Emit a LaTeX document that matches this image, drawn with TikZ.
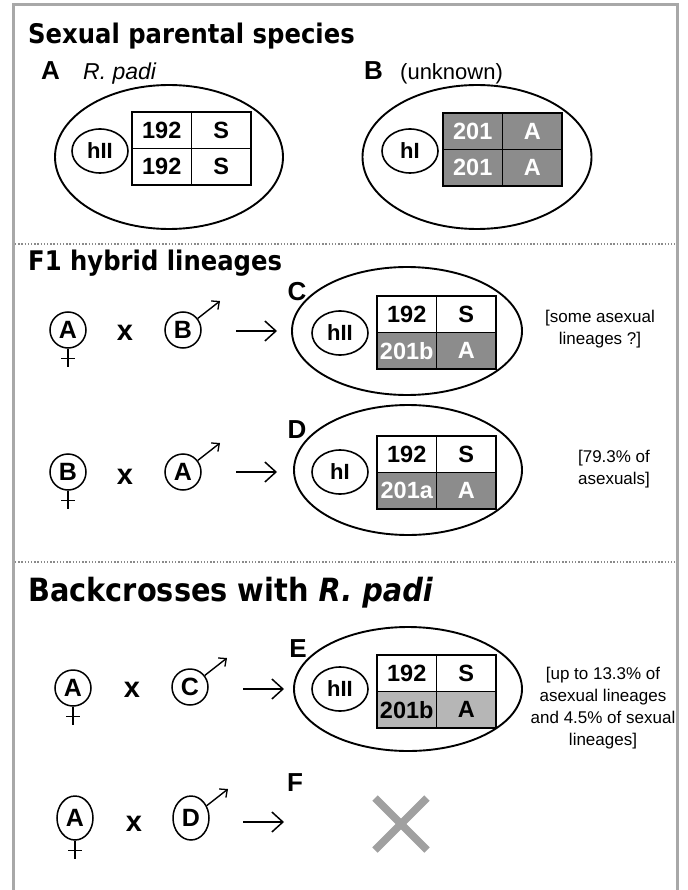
\documentclass[tikz,border=0pt]{standalone}
\usepackage{fontspec}
\setmainfont{Liberation Sans}
\newfontfamily\headfont{DejaVu Sans}[FakeStretch=0.9]
\usetikzlibrary{shapes.geometric,arrows.meta}

\definecolor{darkcell}{HTML}{8C8C8C}
\definecolor{lightcell}{HTML}{B6B6B6}
\definecolor{framegray}{HTML}{A8A8A8}
\definecolor{crossgray}{HTML}{A0A0A0}
\definecolor{sepgray}{HTML}{8A8A8A}

\tikzset{
  framestyle/.style={draw=framegray, line width=3pt},
  sepline/.style={draw=sepgray, line width=1.3pt, dash pattern=on 1.3pt off 1.9pt},
  heading/.style={anchor=base west, inner sep=0pt, font=\headfont\bfseries\fontsize{27}{27}\selectfont},
  bigheading/.style={anchor=base west, inner sep=0pt, font=\headfont\bfseries\fontsize{32}{32}\selectfont},
  lab/.style={inner sep=0pt, font=\fontsize{26}{26}\selectfont\bfseries},
  outer/.style={draw, ellipse, line width=1.9pt, inner sep=0pt},
  hap/.style={draw, ellipse, line width=1.6pt, minimum width=56pt, minimum height=44pt, inner sep=0pt, font=\fontsize{22}{22}\selectfont\bfseries},
  cellw/.style={draw, line width=1.7pt, minimum width=59.5pt, minimum height=36.5pt, inner sep=0pt, font=\fontsize{23.5}{23.5}\selectfont\bfseries, fill=white},
  celld/.style={cellw, fill=darkcell, text=white},
  celll/.style={cellw, fill=lightcell, text=black},
  parent/.style={draw, circle, line width=1.5pt, minimum size=36pt, inner sep=0pt, font=\fontsize{25}{25}\selectfont\bfseries},
  symline/.style={line width=1.4pt},
  xsym/.style={inner sep=0pt, font=\fontsize{29}{29}\selectfont\bfseries},
  bigarrow/.style={line width=1.5pt, -{Straight Barb[length=11pt,width=20pt,line width=1.5pt]}},
  note/.style={anchor=base, inner sep=0pt, font=\fontsize{17}{17}\selectfont},
}

% table: name, x-left, y-top, four texts, top-row style, bottom-row style
\newcommand\gtab[9]{%
  \node[#8] (#1a) at ({#2+29.75},{#3+18.25}) {#4};
  \node[#8] (#1b) at ({#2+89.25},{#3+18.25}) {#5};
  \node[#9] (#1c) at ({#2+29.75},{#3+54.75}) {#6};
  \node[#9] (#1d) at ({#2+89.25},{#3+54.75}) {#7};
}
\newcommand\femsym[5][]{%
  \node[parent,#1] (#2) at (#3,#4) {#5};
  \path (#2.south) ++(0,18) coordinate (#2b);
  \path (#2.south) ++(-7,10) coordinate (#2l);
  \path (#2.south) ++(7,10) coordinate (#2r);
  \draw[symline] (#2.south) -- (#2b);
  \draw[symline] (#2l) -- (#2r);
}
\newcommand\malesym[5][]{%
  \node[parent,#1] (#2) at (#3,#4) {#5};
  \coordinate (#2t) at ({#3+37},{#4-29});
  \draw[symline, -{Straight Barb[length=6pt,width=11pt,line width=1.3pt]}] (#2) -- (#2t);
}

\begin{document}
\begin{tikzpicture}[x=1pt,y=-1pt]
\useasboundingbox (0,0) rectangle (687,890);
\fill[white] (0,0) rectangle (687,890);

% frame and separators
\draw[framestyle] (13,890) -- (13,5) -- (677,5) -- (677,890);
\draw[sepline] (15,244) -- (675,244);
\draw[sepline] (15,562) -- (675,562);

% headings
\node[heading] (h1) at (28,44) {Sexual parental species};
\node[heading] (h2) at (28,270) {F1 hybrid lineages};
\node[bigheading] (h3) at (28,601) {Backcrosses with \textit{R. padi}};

% A
\node[lab, anchor=base west] (labA) at (41,80) {A};
\node[anchor=base west, inner sep=0pt, font=\fontsize{23}{23}\selectfont\itshape] (nameA) at (83,80) {R. padi};
\node[outer, minimum width=228pt, minimum height=144pt] (ellA) at (169,157) {};
\node[hap] (hapA) at (100,151) {hII};
\gtab{tA}{132}{112}{192}{S}{192}{S}{cellw}{cellw}

% B
\node[lab, anchor=base west] (labB) at (364,80) {B};
\node[anchor=base west, inner sep=0pt, font=\fontsize{22}{22}\selectfont] (nameB) at (400,80) {(unknown)};
\node[outer, minimum width=229pt, minimum height=144pt] (ellB) at (477,157) {};
\node[hap] (hapB) at (410,151) {hI};
\gtab{tB}{443}{113}{201}{A}{201}{A}{celld}{celld}

% Row C
\femsym{fA1}{68}{330}{A}
\node[xsym] (x1) at (125,333) {x};
\malesym{mB1}{183}{330}{B}
\coordinate (ar1s) at (236,331);
\coordinate (ar1e) at (277,331);
\draw[bigarrow] (ar1s) -- (ar1e);
\node[lab] (labC) at (297,292) {C};
\node[outer, minimum width=230pt, minimum height=128pt] (ellC) at (407,331) {};
\node[hap] (hapC) at (340,333) {hII};
\gtab{tC}{377}{296}{192}{S}{201b}{A}{cellw}{celld}
\node[note] (nC1) at (600,322) {[some asexual};
\node[note] (nC2) at (600,344) {lineages ?]};

% Row D
\femsym{fB1}{68}{472}{B}
\node[xsym] (x2) at (125,477) {x};
\malesym{mA1}{183}{472}{A}
\coordinate (ar2s) at (236,472);
\coordinate (ar2e) at (277,472);
\draw[bigarrow] (ar2s) -- (ar2e);
\node[lab] (labD) at (297,430) {D};
\node[outer, minimum width=228pt, minimum height=130pt] (ellD) at (408,470) {};
\node[hap] (hapD) at (340,472) {hI};
\gtab{tD}{377}{436}{192}{S}{201a}{A}{cellw}{celld}
\node[note] (nD1) at (614,462) {[79.3\% of};
\node[note] (nD2) at (614,484) {asexuals]};

% Row E
\femsym{fA2}{73}{688}{A}
\node[xsym] (x3) at (132,690) {x};
\malesym{mC1}{190}{687}{C}
\coordinate (ar3s) at (243,689);
\coordinate (ar3e) at (284,689);
\draw[bigarrow] (ar3s) -- (ar3e);
\node[lab] (labE) at (298,649) {E};
\node[outer, minimum width=228pt, minimum height=124pt] (ellE) at (408,689) {};
\node[hap] (hapE) at (340,689) {hII};
\gtab{tE}{377}{655}{192}{S}{201b}{A}{cellw}{celll}
\node[note] (nE1) at (603,679) {[up to 13.3\% of};
\node[note] (nE2) at (603,701) {asexual lineages};
\node[note] (nE3) at (603,723) {and 4.5\% of sexual};
\node[note] (nE4) at (603,745) {lineages]};

% Row F
\femsym[ellipse, minimum width=36pt, minimum height=44pt]{fA3}{75}{818}{A}
\node[xsym] (x4) at (134,824) {x};
\malesym[ellipse, minimum width=36pt, minimum height=44pt]{mD1}{191}{818}{D}
\coordinate (ar4s) at (243,822);
\coordinate (ar4e) at (284,822);
\draw[bigarrow] (ar4s) -- (ar4e);
\node[lab] (labF) at (295,783) {F};
\coordinate (xa) at (375,798);
\coordinate (xb) at (427,850);
\coordinate (xc) at (375,850);
\coordinate (xd) at (427,798);
\draw[crossgray, line width=7.5pt] (xa) -- (xb);
\draw[crossgray, line width=7.5pt] (xc) -- (xd);
\end{tikzpicture}
\end{document}
